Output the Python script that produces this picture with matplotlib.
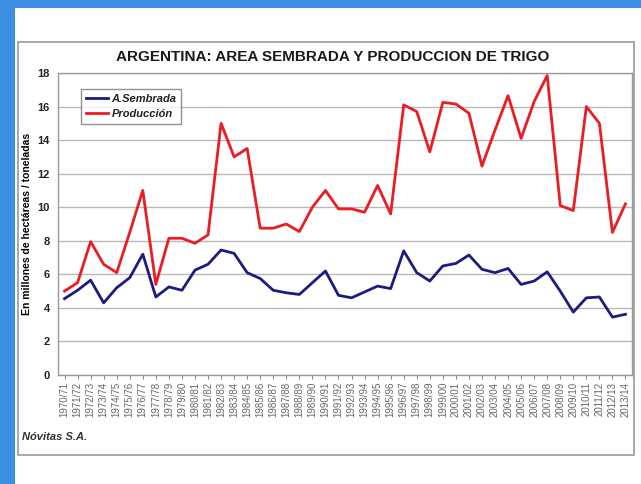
import matplotlib
matplotlib.use("Agg")
import matplotlib.pyplot as plt
from matplotlib.patches import Rectangle
import numpy as np

campanas = ["1970/71", "1971/72", "1972/73", "1973/74", "1974/75", "1975/76", "1976/77",
            "1977/78", "1978/79", "1979/80", "1980/81", "1981/82", "1982/83", "1983/84",
            "1984/85", "1985/86", "1986/87", "1987/88", "1988/89", "1989/90", "1990/91",
            "1991/92", "1992/93", "1993/94", "1994/95", "1995/96", "1996/97", "1997/98",
            "1998/99", "1999/00", "2000/01", "2001/02", "2002/03", "2003/04", "2004/05",
            "2005/06", "2006/07", "2007/08", "2008/09", "2009/10", "2010/11", "2011/12",
            "2012/13", "2013/14"]

area_sembrada = [4.55, 5.05, 5.65, 4.3, 5.2, 5.8, 7.2, 4.65, 5.25, 5.05, 6.25, 6.6,
                 7.45, 7.25, 6.1, 5.75, 5.05, 4.9, 4.8, 5.5, 6.2, 4.75, 4.6, 4.95,
                 5.3, 5.15, 7.4, 6.1, 5.6, 6.5, 6.65, 7.15, 6.3, 6.1, 6.35, 5.4,
                 5.6, 6.15, 5.0, 3.75, 4.6, 4.65, 3.45, 3.62]

produccion = [5.0, 5.5, 7.95, 6.6, 6.1, 8.5, 11.0, 5.4, 8.15, 8.15, 7.85, 8.35,
              15.0, 13.0, 13.5, 8.75, 8.75, 9.0, 8.55, 10.0, 11.0, 9.9, 9.9, 9.7,
              11.3, 9.6, 16.1, 15.7, 13.3, 16.25, 16.15, 15.6, 12.45, 14.6, 16.65, 14.1,
              16.3, 17.85, 10.1, 9.8, 16.0, 15.0, 8.5, 10.2]

y_ticks = [0, 2, 4, 6, 8, 10, 12, 14, 16, 18]

W, H = 641, 484
fig = plt.figure(figsize=(W / 100, H / 100), dpi=100)
fig.patch.set_facecolor("#3d8fe3")

def px_rect(x0, y0, x1, y1, **kw):
    r = Rectangle((x0 / W, 1 - y1 / H), (x1 - x0) / W, (y1 - y0) / H,
                  transform=fig.transFigure, **kw)
    fig.patches.append(r)

# white page
px_rect(15, 8, 641, 484, facecolor="white", edgecolor="none", zorder=0)
# chart box
px_rect(18, 42, 634, 455, facecolor="white", edgecolor="#9a9a9a", linewidth=1.2, zorder=1)

ax = fig.add_axes([58 / W, 1 - 375 / H, (632 - 58) / W, (375 - 73) / H])
ax.set_zorder(2)
ax.set_facecolor("white")

x = np.arange(len(campanas))
ax.plot(x, area_sembrada, color="#1c1c80", linewidth=2.0, label="A.Sembrada")
ax.plot(x, produccion, color="#ec1c24", linewidth=2.0, label="Producción")

ax.set_xlim(-0.5, len(campanas) - 0.5)
ax.set_ylim(0, 18)
ax.set_yticks(y_ticks)
ax.set_yticklabels([str(v) for v in y_ticks], fontsize=8, fontweight="bold",
                   family="Liberation Sans", color="#222222")
ax.set_xticks(x)
ax.set_xticklabels(campanas, rotation=90, fontsize=7, family="Liberation Sans",
                   color="#666666")
ax.tick_params(axis="y", length=0, pad=6)
ax.tick_params(axis="x", length=3, color="#888888", pad=2)
ax.grid(axis="y", color="#b8b8b8", linewidth=1.0)
ax.set_axisbelow(True)
for s in ax.spines.values():
    s.set_color("#9a9a9a")
    s.set_linewidth(1.0)

ax.set_ylabel("En millones de hectáreas / toneladas", fontsize=7.5, fontweight="bold",
              family="Liberation Sans", labelpad=4)

leg = ax.legend(loc="upper left", bbox_to_anchor=(0.036, 0.955), fancybox=False,
                frameon=True, edgecolor="#777777", handlelength=2.0,
                prop={"family": "Liberation Sans", "style": "italic", "weight": "bold", "size": 8},
                borderpad=0.45, labelspacing=0.45, handletextpad=0.3, borderaxespad=0.2)
leg.get_frame().set_linewidth(1.0)
leg.get_frame().set_boxstyle("square", pad=0.0)
for t in leg.get_texts():
    t.set_color("#222222")
    t.set_text(" ".join(t.get_text()).replace("  ", " ") if False else t.get_text())

fig.text(333 / W, 1 - 57 / H, "ARGENTINA: AREA SEMBRADA Y PRODUCCION DE TRIGO",
         ha="center", va="center", fontsize=11, fontweight="bold",
         family="Liberation Sans", color="#1a1a1a")
fig.text(22 / W, 1 - 437 / H, "Nóvitas S.A.", ha="left", va="center", fontsize=8,
         fontweight="bold", style="italic", family="Liberation Sans", color="#333333")

fig.savefig("out.png", dpi=100, facecolor=fig.get_facecolor())
